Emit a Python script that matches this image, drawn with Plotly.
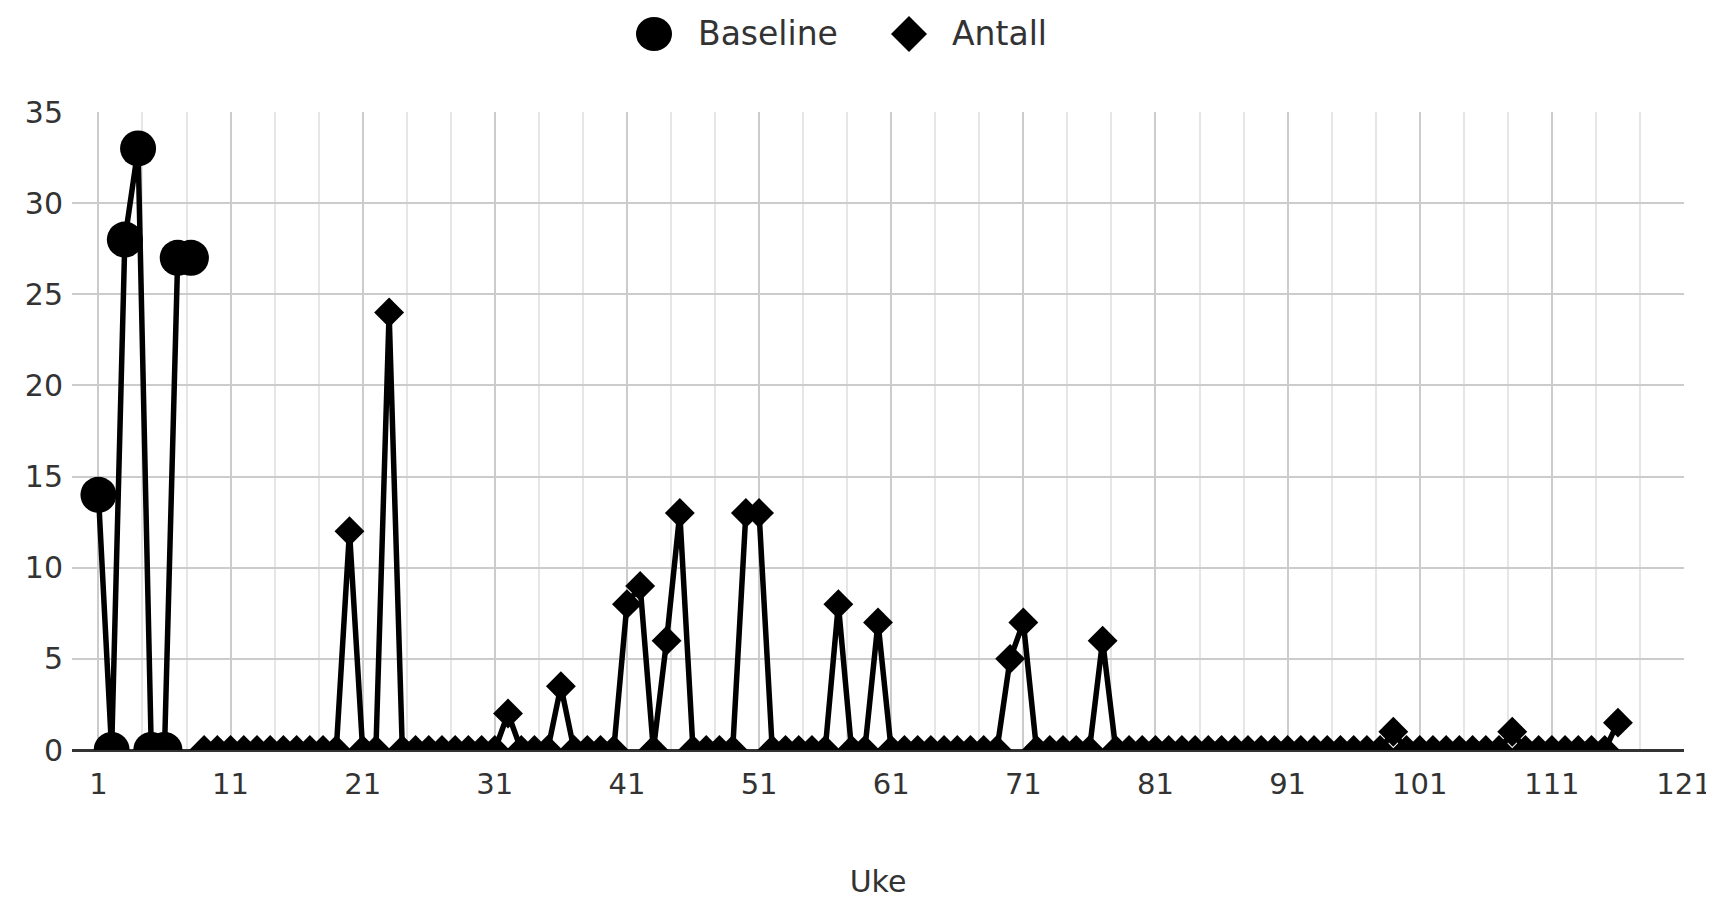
import plotly.graph_objects as go

# ---- data ----
baseline_weeks = [1, 2, 3, 4, 5, 6, 7, 8]
baseline_values = [14, 0, 28, 33, 0, 0, 27, 27]

antall_weeks = list(range(9, 117))
antall_values = [
    0, 0, 0, 0, 0, 0, 0, 0, 0, 0, 0,          # 9-19
    12, 0, 0, 24,                              # 20-23
    0, 0, 0, 0, 0, 0, 0, 0,                    # 24-31
    2, 0, 0, 0, 3.5,                           # 32-36
    0, 0, 0, 0,                                # 37-40
    8, 9, 0, 6, 13,                            # 41-45
    0, 0, 0, 0,                                # 46-49
    13, 13,                                    # 50-51
    0, 0, 0, 0, 0,                             # 52-56
    8, 0, 0, 7,                                # 57-60
    0, 0, 0, 0, 0, 0, 0, 0, 0,                 # 61-69
    5, 7,                                      # 70-71
    0, 0, 0, 0, 0,                             # 72-76
    6,                                         # 77
    0, 0, 0, 0, 0, 0, 0, 0, 0, 0, 0, 0, 0, 0, 0, 0, 0, 0, 0, 0, 0,  # 78-98
    1,                                         # 99
    0, 0, 0, 0, 0, 0, 0, 0,                    # 100-107
    1,                                         # 108
    0, 0, 0, 0, 0, 0, 0,                       # 109-115
    1.5,                                       # 116
]

x_ticks = [1, 11, 21, 31, 41, 51, 61, 71, 81, 91, 101, 111, 121]
y_ticks = [0, 5, 10, 15, 20, 25, 30, 35]
series_names = ["Baseline", "Antall"]
x_title = "Uke"

FONT = "DejaVu Sans, Roboto, Arial, sans-serif"
TXT = "#333333"

fig = go.Figure()
fig.add_trace(go.Scatter(
    x=baseline_weeks, y=baseline_values, name=series_names[0], mode="lines+markers",
    line=dict(color="black", width=5.5),
    marker=dict(symbol="circle", size=36, color="black"),
    showlegend=False,
))
fig.add_trace(go.Scatter(
    x=antall_weeks, y=antall_values, name=series_names[1], mode="lines+markers",
    line=dict(color="black", width=5.5),
    marker=dict(symbol="diamond", size=23, color="black"),
    showlegend=False,
))

L, R, T, B = 64, 38, 104, 155
W, H = 1714, 897
pw, ph = W - L - R, H - T - B


def px_to_paper_x(px):
    return (px - L) / pw


def py_to_paper_y(py):
    return (H - B - py) / ph


leg_y = py_to_paper_y(26)
shapes = [
    dict(type="circle", xref="paper", yref="paper", xsizemode="pixel", ysizemode="pixel",
         xanchor=px_to_paper_x(646), yanchor=leg_y, x0=-18, x1=18, y0=-17, y1=17,
         fillcolor="black", line=dict(width=0)),
    dict(type="path", xref="paper", yref="paper", xsizemode="pixel", ysizemode="pixel",
         xanchor=px_to_paper_x(901), yanchor=leg_y,
         path="M -18 0 L 0 18 L 18 0 L 0 -18 Z", fillcolor="black", line=dict(width=0)),
]
annotations = [
    dict(text=series_names[0], xref="paper", yref="paper", x=px_to_paper_x(688), y=leg_y,
         xanchor="left", yanchor="middle", showarrow=False, font=dict(size=33, color=TXT, family=FONT)),
    dict(text=series_names[1], xref="paper", yref="paper", x=px_to_paper_x(942), y=leg_y,
         xanchor="left", yanchor="middle", showarrow=False, font=dict(size=33, color=TXT, family=FONT)),
]

fig.update_layout(
    width=W, height=H,
    margin=dict(l=L, r=R, t=T, b=B, autoexpand=False),
    paper_bgcolor="white", plot_bgcolor="white",
    font=dict(family=FONT, size=30, color=TXT),
    shapes=shapes, annotations=annotations,
    showlegend=False,
)
fig.update_xaxes(
    range=[-1.0, 121], tickmode="array", tickvals=x_ticks, ticktext=[str(t) for t in x_ticks],
    showgrid=True, gridcolor="#cccccc", gridwidth=2,
    minor=dict(tick0=1, dtick=10 / 3, showgrid=True, gridcolor="#e6e6e6", gridwidth=2),
    zeroline=False, showline=False, ticks="", automargin=False,
    tickfont=dict(size=29, color=TXT), ticklabelstandoff=14,
    title=dict(text=x_title, font=dict(size=30, color=TXT), standoff=70),
)
fig.update_yaxes(
    range=[0, 35], tickmode="array", tickvals=y_ticks,
    showgrid=True, gridcolor="#cccccc", gridwidth=2,
    zeroline=True, zerolinecolor="#333333", zerolinewidth=3,
    showline=False, ticks="", ticklabelstandoff=8, automargin=False,
    tickfont=dict(size=30, color=TXT),
)

fig.write_html("out.html")
